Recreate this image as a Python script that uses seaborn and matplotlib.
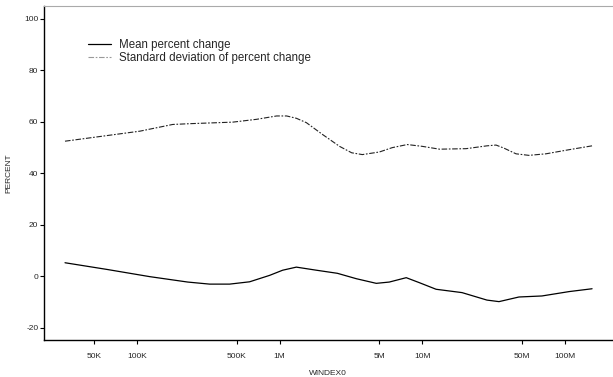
import matplotlib
matplotlib.use("Agg")
import matplotlib.pyplot as plt
import seaborn as sns
import pandas as pd
from matplotlib.ticker import FixedLocator, NullLocator

sns.set_style("ticks")
plt.rcParams['font.family'] = ['Liberation Sans', 'DejaVu Sans']
plt.rcParams['axes.unicode_minus'] = False

# Mean percent change
mean_x = [31.3e3, 61.7e3, 123e3, 227e3, 323e3, 446e3, 616e3, 851e3, 1.05e6, 1.31e6,
          1.81e6, 2.54e6, 3.45e6, 4.76e6, 5.87e6, 7.72e6, 9.5e6, 12.5e6, 19.0e6,
          28.4e6, 34.5e6, 47.6e6, 69.0e6, 107e6, 155e6]
mean_y = [5.3, 2.7, -0.1, -2.2, -3.0, -3.0, -2.1, 0.4, 2.4, 3.6,
          2.4, 1.2, -0.9, -2.7, -2.2, -0.5, -2.4, -5.0, -6.3,
          -9.2, -9.8, -8.0, -7.6, -5.9, -4.8]

# Standard deviation of percent change
sd_x = [31.3e3, 105e3, 178e3, 234e3, 469e3, 690e3, 953e3, 1.12e6, 1.31e6, 1.54e6,
        2.0e6, 2.63e6, 3.20e6, 3.80e6, 5.0e6, 6.16e6, 7.85e6, 10e6, 13.2e6, 20.3e6, 28.4e6,
        32.9e6, 37.4e6, 45.4e6, 55.9e6, 73.6e6, 107e6, 155e6]
sd_y = [52.5, 56.4, 59.0, 59.3, 59.9, 61.0, 62.3, 62.3, 61.4, 59.7,
        55.1, 50.5, 48.0, 47.3, 48.3, 50.0, 51.2, 50.5, 49.4, 49.6, 50.7,
        51.0, 49.8, 47.6, 47.0, 47.6, 49.2, 50.7]

xticks = [50e3, 100e3, 500e3, 1e6, 5e6, 10e6, 50e6, 100e6]
xtick_labels = ["50K", "100K", "500K", "1M", "5M", "10M", "50M", "100M"]
yticks = [-20, 0, 20, 40, 60, 80, 100]

df_mean = pd.DataFrame({"WINDEX0": mean_x, "PERCENT": mean_y})
df_sd = pd.DataFrame({"WINDEX0": sd_x, "PERCENT": sd_y})

fig = plt.figure(figsize=(6.13, 3.77), dpi=100)
ax = fig.add_axes([44/613, 1-340/377, 1-44/613-0.002, (340-6)/377])

sns.lineplot(data=df_mean, x="WINDEX0", y="PERCENT", ax=ax, color="black",
             linewidth=0.9, label="Mean percent change", sort=False)
sns.lineplot(data=df_sd, x="WINDEX0", y="PERCENT", ax=ax, color="#222222",
             linewidth=0.8, dashes=False, sort=False,
             label="Standard deviation of percent change")
ax.lines[1].set_dashes([5, 1.5, 1.5, 1.5])

ax.set_xscale("log")
ax.set_xlim(22.3e3, 213e6)
ax.set_ylim(-24.7, 105)
ax.xaxis.set_major_locator(FixedLocator(xticks))
ax.xaxis.set_minor_locator(NullLocator())
ax.set_xticklabels(xtick_labels)
ax.set_yticks(yticks)
ax.tick_params(axis="both", labelsize=6, length=3, width=0.8, color="black")
ax.tick_params(axis="x", pad=6)
ax.tick_params(axis="y", pad=1)

ax.set_xlabel("WINDEX0", fontsize=6)
ax.xaxis.set_label_coords(0.5, -0.09)
ax.set_ylabel("PERCENT", fontsize=6)
ax.yaxis.set_label_coords(-0.055, 0.5)

for s in ["left", "bottom"]:
    ax.spines[s].set_color("black")
    ax.spines[s].set_linewidth(1.0)
ax.spines["top"].set_visible(True)
ax.spines["top"].set_color("#aaaaaa")
ax.spines["top"].set_linewidth(0.8)
ax.spines["right"].set_visible(False)

leg = ax.legend(loc="upper left", bbox_to_anchor=(0.070, 0.915), frameon=False,
                fontsize=8.3, handlelength=2.0, handletextpad=0.7,
                labelspacing=0.1, borderaxespad=0)
leg.get_lines()[1].set_color("#999999")

fig.savefig("out.png", dpi=100, facecolor="white")
